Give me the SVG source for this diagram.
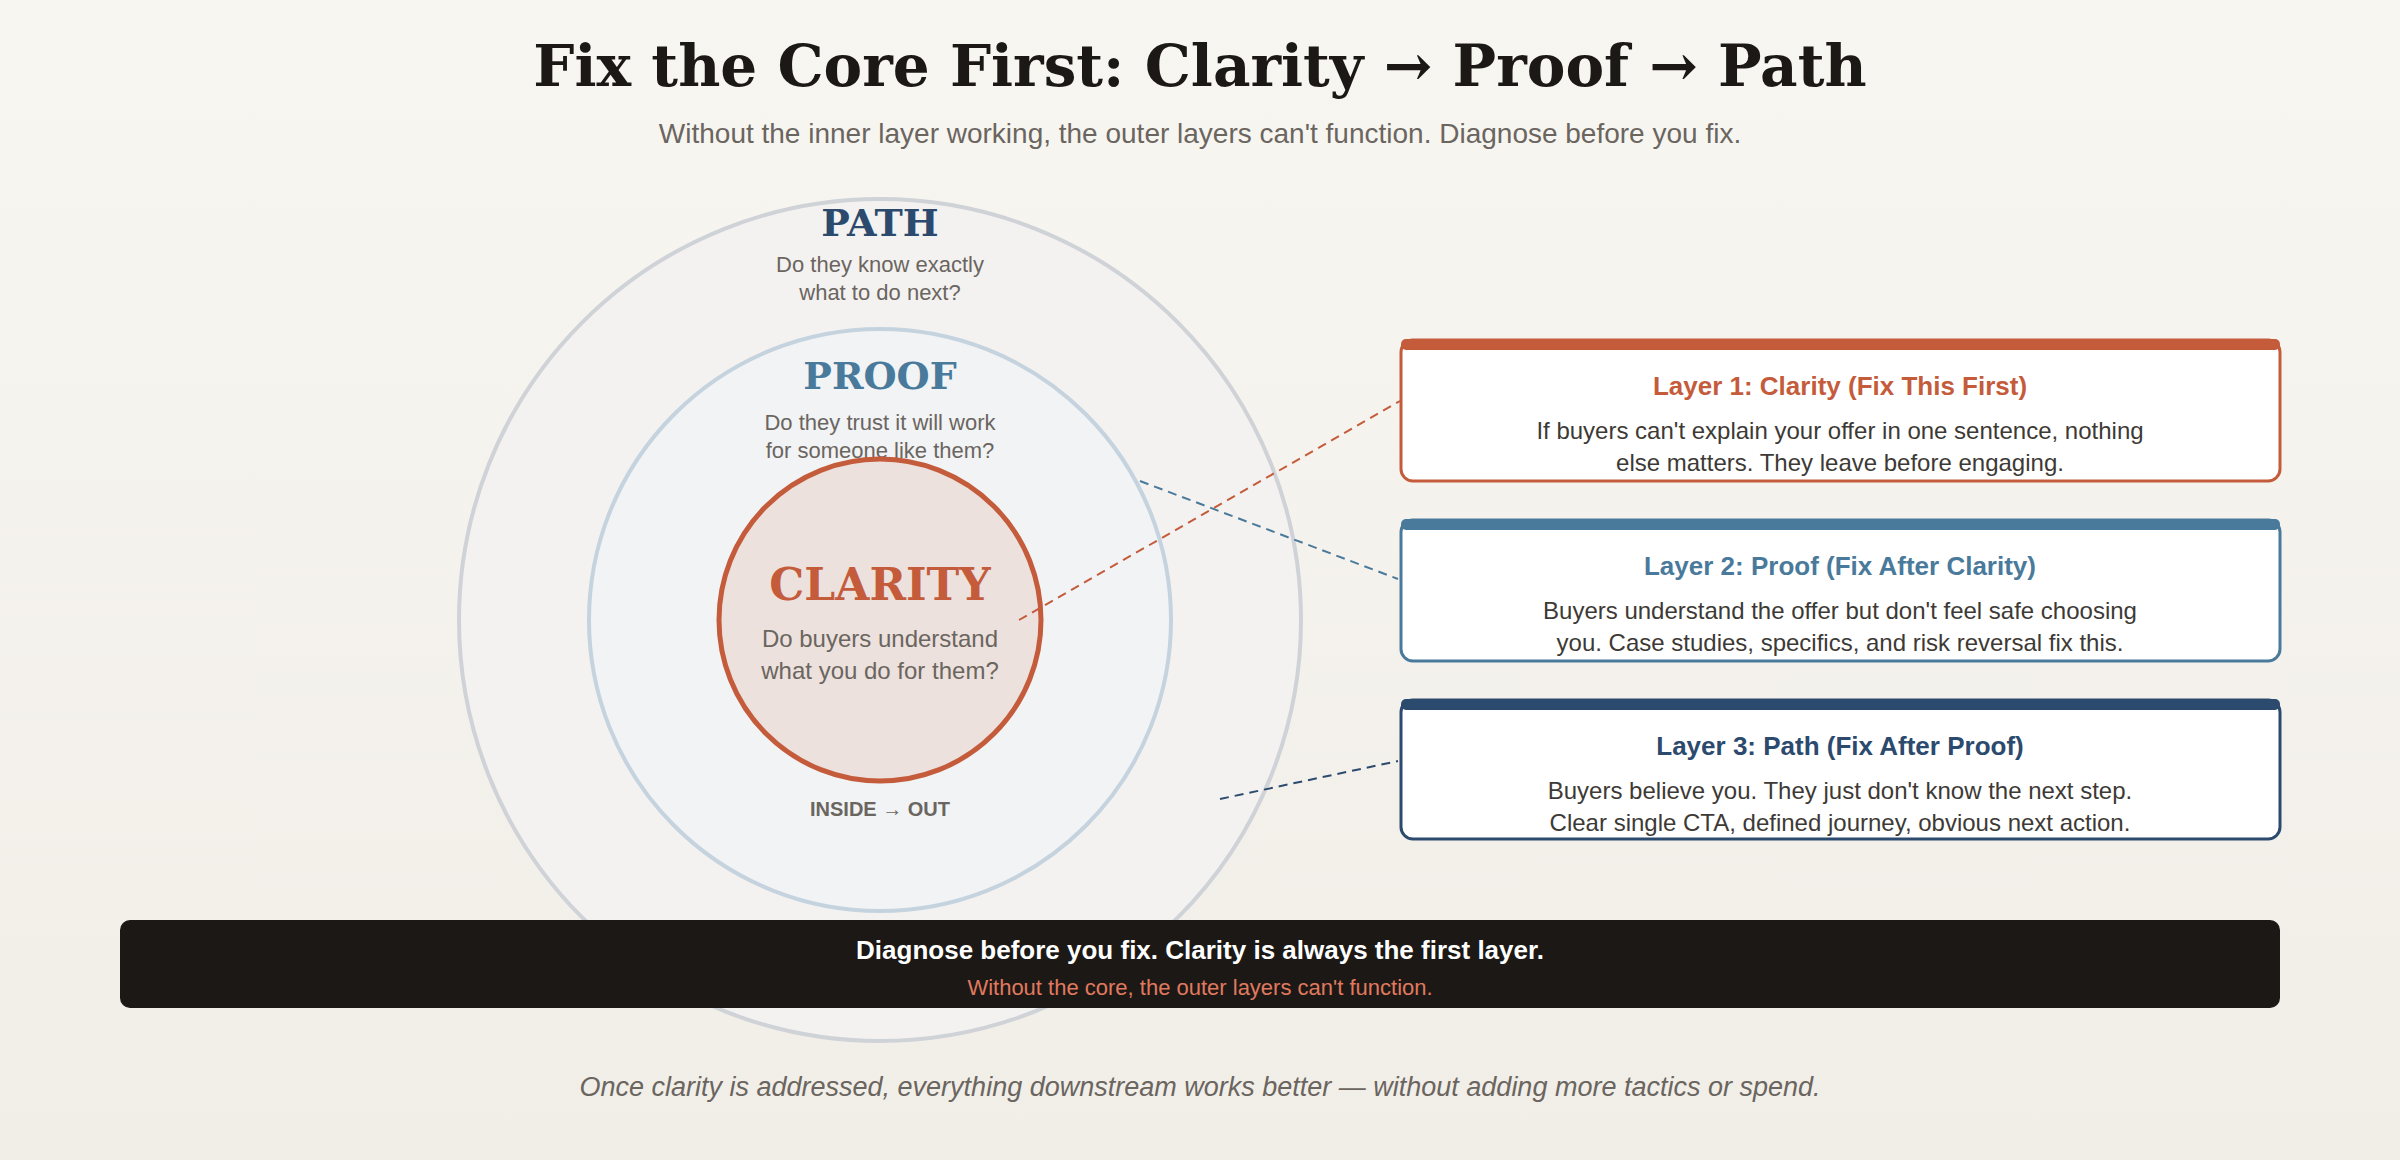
<svg xmlns="http://www.w3.org/2000/svg" width="2400" height="1160" viewBox="0 0 2400 1160">
<defs>
<linearGradient id="bg" x1="0" y1="0" x2="0" y2="1"><stop offset="0" stop-color="#f8f6f1"/><stop offset="1" stop-color="#f1eee8"/></linearGradient>
<style>
.serif{font-family:"DejaVu Serif","Liberation Serif",serif;font-weight:bold;text-anchor:middle}
.sans{font-family:"Liberation Sans",Arial,sans-serif;text-anchor:middle}
.q{font-size:22px;fill:#6b6560}
.ct{font-size:26px;font-weight:bold}
.cb{font-size:24px;fill:#3d3a36}
.card{fill:#fff;stroke-width:3}
.conn{fill:none;stroke-width:2;stroke-dasharray:9 6}
</style>
</defs>
<rect width="2400" height="1160" fill="url(#bg)"/>
<text class="serif" x="1200" y="86" font-size="58" fill="#1c1815">Fix the Core First: Clarity → Proof → Path</text>
<text class="sans" x="1200" y="143" font-size="28" fill="#6b6560">Without the inner layer working, the outer layers can't function. Diagnose before you fix.</text>
<g id="path-layer"><circle cx="880" cy="620" r="421" fill="#f3f2f0" stroke="#cfd2d7" stroke-width="4"/>
<text class="serif" x="880" y="236" font-size="38" fill="#2c4a6e">PATH</text>
<text class="sans q" x="880" y="272">Do they know exactly</text><text class="sans q" x="880" y="300">what to do next?</text></g>
<g id="proof-layer"><circle cx="880" cy="620" r="291" fill="#f1f3f5" stroke="#c5d3df" stroke-width="4"/>
<text class="serif" x="880" y="389" font-size="38" fill="#4a7a9b">PROOF</text>
<text class="sans q" x="880" y="430">Do they trust it will work</text><text class="sans q" x="880" y="458">for someone like them?</text></g>
<g id="clarity-layer"><circle cx="880" cy="620" r="161" fill="#ece1dd" stroke="#c45c3c" stroke-width="5"/>
<text class="serif" x="880" y="600" font-size="44" fill="#c45c3c">CLARITY</text>
<text class="sans" x="880" y="647" font-size="24" fill="#6b6560">Do buyers understand</text><text class="sans" x="880" y="679" font-size="24" fill="#6b6560">what you do for them?</text>
<text class="sans" x="880" y="816" font-size="20" font-weight="bold" fill="#6b6560">INSIDE → OUT</text></g>
<g id="connectors">
<line class="conn" x1="1019" y1="620" x2="1400" y2="401" stroke="#c45c3c"/>
<line class="conn" x1="1140" y1="481" x2="1398" y2="579" stroke="#4a7a9b"/>
<line class="conn" x1="1220" y1="799" x2="1398" y2="761" stroke="#2c4a6e"/>
</g>
<g id="card1"><rect class="card" x="1401" y="340" width="879" height="141" rx="12" stroke="#c45c3c"/><rect x="1401" y="339" width="879" height="11" rx="5" fill="#c45c3c"/>
<text class="sans ct" x="1840" y="395" fill="#c45c3c">Layer 1: Clarity (Fix This First)</text>
<text class="sans cb" x="1840" y="439">If buyers can't explain your offer in one sentence, nothing</text><text class="sans cb" x="1840" y="471">else matters. They leave before engaging.</text></g>
<g id="card2"><rect class="card" x="1401" y="520" width="879" height="141" rx="12" stroke="#4a7a9b"/><rect x="1401" y="519" width="879" height="11" rx="5" fill="#4a7a9b"/>
<text class="sans ct" x="1840" y="575" fill="#4a7a9b">Layer 2: Proof (Fix After Clarity)</text>
<text class="sans cb" x="1840" y="619">Buyers understand the offer but don't feel safe choosing</text><text class="sans cb" x="1840" y="651">you. Case studies, specifics, and risk reversal fix this.</text></g>
<g id="card3"><rect class="card" x="1401" y="700" width="879" height="139" rx="12" stroke="#2c4a6e"/><rect x="1401" y="699" width="879" height="11" rx="5" fill="#2c4a6e"/>
<text class="sans ct" x="1840" y="755" fill="#2c4a6e">Layer 3: Path (Fix After Proof)</text>
<text class="sans cb" x="1840" y="799">Buyers believe you. They just don't know the next step.</text><text class="sans cb" x="1840" y="831">Clear single CTA, defined journey, obvious next action.</text></g>
<g id="banner"><rect x="120" y="920" width="2160" height="88" rx="10" fill="#1c1815"/>
<text class="sans" x="1200" y="959" font-size="26" font-weight="bold" fill="#ffffff">Diagnose before you fix. Clarity is always the first layer.</text>
<text class="sans" x="1200" y="995" font-size="22" fill="#e07a5f">Without the core, the outer layers can't function.</text></g>
<text class="sans" x="1200" y="1096" font-size="27" font-style="italic" fill="#6b6560">Once clarity is addressed, everything downstream works better — without adding more tactics or spend.</text>
</svg>
